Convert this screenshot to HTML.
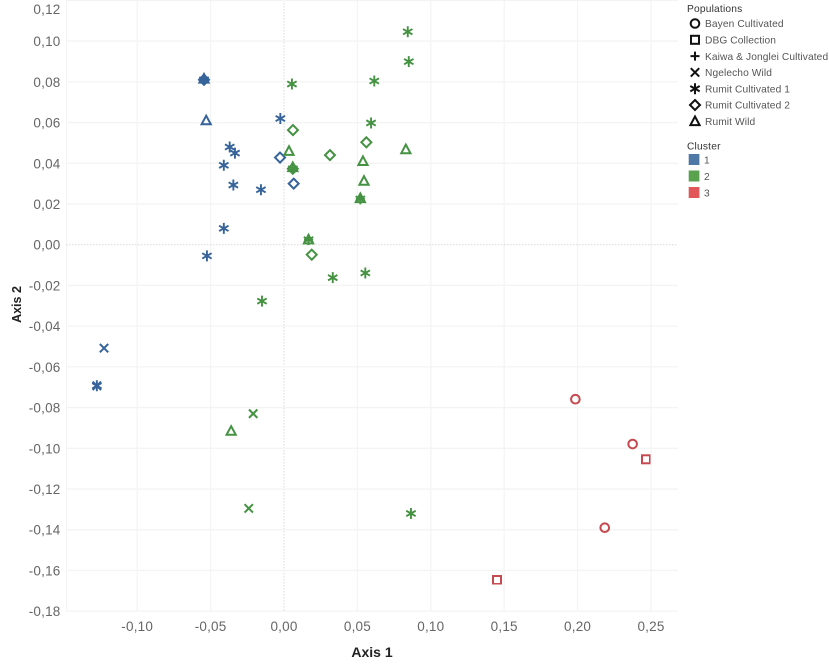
<!DOCTYPE html>
<html lang="en">
<head>
<meta charset="utf-8">
<title>PCoA scatter plot</title>
<style>
html,body{margin:0;padding:0;background:#fff;}
body{width:829px;height:665px;overflow:hidden;font-family:"Liberation Sans",sans-serif;}
svg{display:block;}
.tick{font-size:13.5px;fill:#666;letter-spacing:.2px;}
.title{font-size:14px;font-weight:bold;fill:#222;}
.lg{font-size:10.2px;fill:#555;letter-spacing:.1px;}
.lgh{font-size:10.2px;fill:#333;letter-spacing:.2px;}
#marks{filter:url(#soft);}
</style>
</head>
<body>
<svg id="chart" width="829" height="665" viewBox="0 0 829 665" xmlns="http://www.w3.org/2000/svg">
  <defs><filter id="soft" x="0" y="0" width="100%" height="100%"><feGaussianBlur stdDeviation="0.3"/></filter></defs>
  <g id="grid"></g>
  <g id="ticks"></g>
  <g id="marks"></g>
  <text class="title" x="372" y="657" text-anchor="middle">Axis 1</text>
  <text class="title" style="font-size:12.5px" transform="translate(21,304.5) rotate(-90)" text-anchor="middle">Axis 2</text>
  <g id="legend">
    <text class="lgh" x="687" y="12">Populations</text>
    <text class="lgh" x="687" y="149.5">Cluster</text>
  </g>
</svg>
<script>
const xTicks = [-0.10, -0.05, 0, 0.05, 0.10, 0.15, 0.20, 0.25];
const yTicks = [0.12, 0.10, 0.08, 0.06, 0.04, 0.02, 0, -0.02, -0.04, -0.06, -0.08, -0.10, -0.12, -0.14, -0.16, -0.18];

const clusterNames = ['1', '2', '3'];
const populationNames = ['Bayen Cultivated', 'DBG Collection', 'Kaiwa & Jonglei Cultivated', 'Ngelecho Wild', 'Rumit Cultivated 1', 'Rumit Cultivated 2', 'Rumit Wild'];

const bayenCluster3 = [[0.1985, -0.0759], [0.2375, -0.0979], [0.2185, -0.139]];
const dbgCluster3 = [[0.2466, -0.1054], [0.1451, -0.1647]];
const kaiwaCluster2 = [[0.0167, 0.0025], [0.052, 0.0225]];
const ngelechoCluster1 = [[-0.1226, -0.0508], [-0.1275, -0.0693]];
const ngelechoCluster2 = [[-0.021, -0.083], [-0.024, -0.1295]];
const rumit1Cluster1 = [[-0.0025, 0.062], [-0.037, 0.048], [-0.0334, 0.045], [-0.041, 0.039], [-0.0345, 0.0293], [-0.0157, 0.027], [-0.041, 0.008], [-0.0525, -0.0055], [-0.0545, 0.081], [-0.1275, -0.0693]];
const rumit1Cluster2 = [[0.0843, 0.1046], [0.085, 0.0899], [0.0615, 0.0804], [0.0054, 0.0789], [0.0593, 0.0598], [0.0332, -0.0162], [0.0554, -0.0139], [-0.015, -0.0277], [0.0865, -0.132], [0.006, 0.0373], [0.052, 0.0225], [0.0167, 0.0025]];
const rumit2Cluster1 = [[-0.0027, 0.0428], [0.0066, 0.030], [-0.0545, 0.081]];
const rumit2Cluster2 = [[0.0061, 0.0563], [0.0561, 0.0503], [0.0313, 0.044], [0.0189, -0.0049], [0.006, 0.0373]];
const wildCluster1 = [[-0.053, 0.061], [-0.0545, 0.0815]];
const wildCluster2 = [[0.0034, 0.046], [0.083, 0.0468], [0.0538, 0.041], [0.0545, 0.0313], [-0.036, -0.0915], [0.006, 0.038], [0.052, 0.0228], [0.0167, 0.0025]];

const series = [
  ['circle', 2, bayenCluster3], ['square', 2, dbgCluster3], ['plus', 1, kaiwaCluster2],
  ['x', 0, ngelechoCluster1], ['x', 1, ngelechoCluster2],
  ['star', 0, rumit1Cluster1], ['star', 1, rumit1Cluster2],
  ['diamond', 0, rumit2Cluster1], ['diamond', 1, rumit2Cluster2],
  ['triangle', 0, wildCluster1], ['triangle', 1, wildCluster2]
];

const NS = 'http://www.w3.org/2000/svg';
const markColors = ['#35649a', '#459243', '#c5484f'];
const swatchColors = ['#4e79a7', '#59a14f', '#e15759'];
const legendShapes = ['circle', 'square', 'plus', 'x', 'star', 'diamond', 'triangle'];
const xScale = v => 284 + v * 1468;
const yScale = v => 244.7 - v * 2036;
const fmt = v => v.toFixed(2).replace('.', ',');

function make(tag, attrs, parent) {
  const el = document.createElementNS(NS, tag);
  for (const k in attrs) el.setAttribute(k, attrs[k]);
  parent.appendChild(el);
  return el;
}

function drawShape(parent, shape, cx, cy, color, s, w) {
  const g = make('g', {transform: 'translate(' + cx + ',' + cy + ')', fill: 'none', stroke: color, 'stroke-width': w}, parent);
  if (shape === 'circle') make('circle', {r: 4.3 * s}, g);
  if (shape === 'square') make('rect', {x: -4 * s, y: -4 * s, width: 8 * s, height: 8 * s}, g);
  if (shape === 'plus') make('path', {d: 'M' + (-4.5 * s) + ' 0H' + (4.5 * s) + 'M0 ' + (-4.5 * s) + 'V' + (4.5 * s)}, g);
  if (shape === 'x') make('path', {d: 'M' + (-4.2 * s) + ' ' + (-4.2 * s) + 'L' + (4.2 * s) + ' ' + (4.2 * s) + 'M' + (-4.2 * s) + ' ' + (4.2 * s) + 'L' + (4.2 * s) + ' ' + (-4.2 * s)}, g);
  if (shape === 'star') make('path', {d: 'M0 ' + (-5.5 * s) + 'V' + (5.5 * s) + 'M' + (-4.7 * s) + ' ' + (-2.7 * s) + 'L' + (4.7 * s) + ' ' + (2.7 * s) + 'M' + (-4.7 * s) + ' ' + (2.7 * s) + 'L' + (4.7 * s) + ' ' + (-2.7 * s)}, g);
  if (shape === 'diamond') make('path', {d: 'M0 ' + (-5 * s) + 'L' + (5 * s) + ' 0L0 ' + (5 * s) + 'L' + (-5 * s) + ' 0Z'}, g);
  if (shape === 'triangle') make('path', {d: 'M0 ' + (-4.8 * s) + 'L' + (4.6 * s) + ' ' + (3.8 * s) + 'H' + (-4.6 * s) + 'Z'}, g);
  return g;
}

const gridG = document.getElementById('grid');
const ticksG = document.getElementById('ticks');
const marksG = document.getElementById('marks');
const legendG = document.getElementById('legend');

const frameLeft = make('line', {x1: 66.5, x2: 66.5, y1: 0, y2: 611.5, stroke: '#f4f4f4', 'stroke-width': 1}, gridG);



xTicks.forEach(v => {
  const x = xScale(v);
  const line = make('line', {x1: x, x2: x, y1: 0, y2: 611.5, stroke: v === 0 ? '#d8d8d8' : '#f4f4f4', 'stroke-width': v === 0 ? 1 : 1.2, 'stroke-dasharray': v === 0 ? '1.5 1.5' : 'none'}, gridG);
  
  
  const label = make('text', {x: x, y: 631, 'text-anchor': 'middle', class: 'tick'}, ticksG);
  label.textContent = fmt(v);
  
  
});

yTicks.forEach(v => {
  const y = yScale(v);
  const line = make('line', {x1: 66, x2: 678, y1: y, y2: y, stroke: v === 0 ? '#d8d8d8' : '#f4f4f4', 'stroke-width': v === 0 ? 1 : 1.4, 'stroke-dasharray': v === 0 ? '1.5 1.5' : 'none'}, gridG);
  
  
  const label = make('text', {x: 60.5, y: Math.max(y + 5, 14), 'text-anchor': 'end', class: 'tick'}, ticksG);
  label.textContent = fmt(v);
  
  
});

series.forEach(s => {
  s[2].forEach(p => {
    const mark = drawShape(marksG, s[0], xScale(p[0]), yScale(p[1]), markColors[s[1]], 1, s[0] === 'star' ? 1.9 : 2);
    
    
  });
});

populationNames.forEach((name, i) => {
  const y = 23.5 + i * 16.3;
  const icon = drawShape(legendG, legendShapes[i], 695, y, '#111', 1, 2);
  
  
  const label = make('text', {x: 705, y: y + 3.7, class: 'lg'}, legendG);
  label.textContent = name;
  
  
});

clusterNames.forEach((name, i) => {
  const y = 154 + i * 16.5;
  const swatch = make('rect', {x: 688.7, y: y, width: 10.7, height: 11, fill: swatchColors[i]}, legendG);
  
  
  const label = make('text', {x: 704, y: y + 9.5, class: 'lg'}, legendG);
  label.textContent = name;
  
  
});
</script>
</body>
</html>
